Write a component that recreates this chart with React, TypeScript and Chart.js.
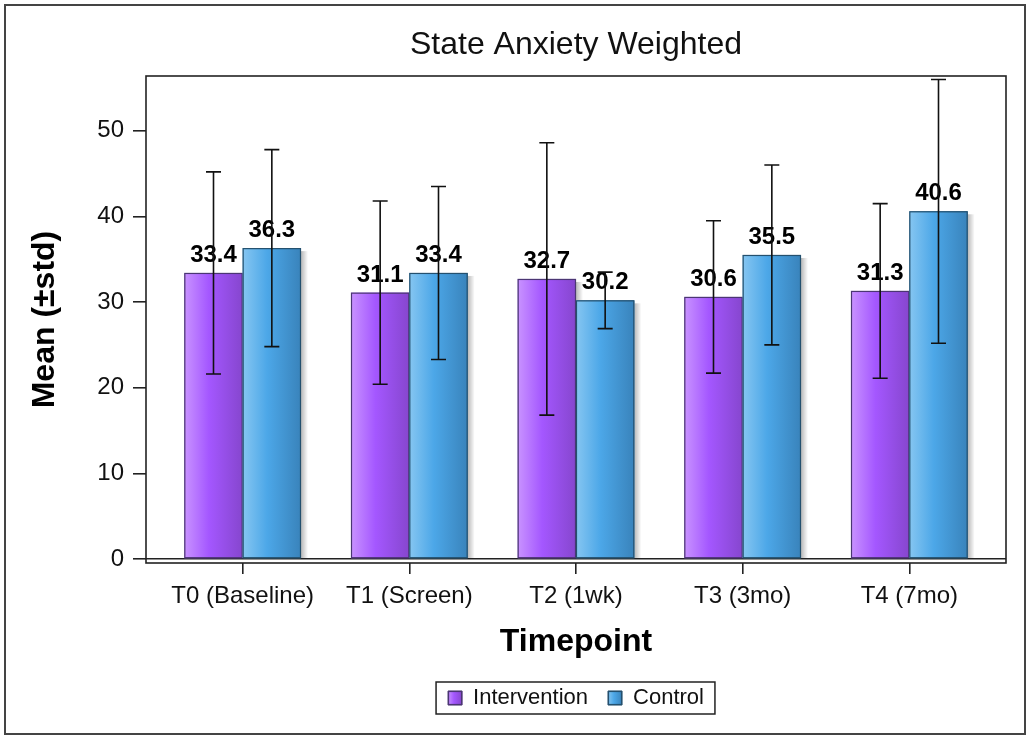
import React, { useEffect, useRef } from "react";
import { Chart, registerables } from "chart.js";

Chart.register(...registerables);

const categories = ["T0 (Baseline)", "T1 (Screen)", "T2 (1wk)", "T3 (3mo)", "T4 (7mo)"];
const interventionMean = [33.4, 31.1, 32.7, 30.6, 31.3];
const controlMean = [36.3, 33.4, 30.2, 35.5, 40.6];
const interventionStd = [11.8, 10.7, 15.9, 8.9, 10.2];
const controlStd = [11.5, 10.1, 3.3, 10.5, 15.4];
const yTickValues = [0, 10, 20, 30, 40, 50];
const seriesNames = ["Intervention", "Control"];

const FONT = "'Liberation Sans', Arial, Helvetica, sans-serif";

const gradStops = [
  [
    [0, "#C993FF"],
    [0.42, "#A457FF"],
    [1, "#8646CE"],
  ],
  [
    [0, "#86C6F1"],
    [0.42, "#4CA7E8"],
    [1, "#3983BB"],
  ],
];
const solidColors = ["#A457FF", "#4CA7E8"];
const borderColors = ["#4B3673", "#24506E"];
const stdArrays = [interventionStd, controlStd];

function makeGrad(ctx: CanvasRenderingContext2D, x0: number, x1: number, stops: any[]) {
  const g = ctx.createLinearGradient(x0, 0, x1, 0);
  stops.forEach(([o, c]) => g.addColorStop(o, c));
  return g;
}

const decorPlugin = {
  id: "decor",
  beforeDatasetsDraw(chart: any) {
    const ctx = chart.ctx as CanvasRenderingContext2D;
    ctx.save();
    chart.data.datasets.forEach((_: any, di: number) => {
      const meta = chart.getDatasetMeta(di);
      meta.data.forEach((el: any) => {
        const { x, y, base, width } = el.getProps(["x", "y", "base", "width"], true);
        const right = x + width / 2;
        const g = ctx.createLinearGradient(right, 0, right + 7, 0);
        g.addColorStop(0, "rgba(0,0,0,0.28)");
        g.addColorStop(1, "rgba(0,0,0,0)");
        ctx.fillStyle = g;
        ctx.fillRect(right, y + 3, 7, base - y - 3);
      });
    });
    ctx.restore();
  },
  afterDatasetsDraw(chart: any) {
    const ctx = chart.ctx as CanvasRenderingContext2D;
    const yScale = chart.scales.y;
    ctx.save();
    // gradient bars
    chart.data.datasets.forEach((_: any, di: number) => {
      const meta = chart.getDatasetMeta(di);
      meta.data.forEach((el: any) => {
        const { x, y, base, width } = el.getProps(["x", "y", "base", "width"], true);
        const left = x - width / 2;
        ctx.fillStyle = makeGrad(ctx, left, left + width, gradStops[di]);
        ctx.fillRect(left, y, width, base - y);
        ctx.strokeStyle = borderColors[di];
        ctx.lineWidth = 1.2;
        ctx.strokeRect(left + 0.5, y + 0.5, width - 1, base - y - 1);
      });
    });
    // value labels
    ctx.fillStyle = "#000";
    ctx.font = `bold 24px ${FONT}`;
    ctx.textAlign = "center";
    ctx.textBaseline = "alphabetic";
    chart.data.datasets.forEach((ds: any, di: number) => {
      const meta = chart.getDatasetMeta(di);
      meta.data.forEach((el: any, i: number) => {
        const { x, y } = el.getProps(["x", "y"], true);
        ctx.fillText(ds.data[i].y.toFixed(1), x, y - 11);
      });
    });
    // error bars
    ctx.strokeStyle = "#111";
    ctx.lineWidth = 1.6;
    chart.data.datasets.forEach((ds: any, di: number) => {
      const meta = chart.getDatasetMeta(di);
      meta.data.forEach((el: any, i: number) => {
        const { x } = el.getProps(["x"], true);
        const m = ds.data[i].y;
        const s = stdArrays[di][i];
        const yt = yScale.getPixelForValue(m + s);
        const yb = yScale.getPixelForValue(m - s);
        ctx.beginPath();
        ctx.moveTo(x, yt);
        ctx.lineTo(x, yb);
        ctx.moveTo(x - 7.5, yt);
        ctx.lineTo(x + 7.5, yt);
        ctx.moveTo(x - 7.5, yb);
        ctx.lineTo(x + 7.5, yb);
        ctx.stroke();
      });
    });
    // plot frame
    const a = chart.chartArea;
    ctx.strokeStyle = "#222";
    ctx.lineWidth = 1.6;
    ctx.strokeRect(a.left, a.top, a.right - a.left, a.bottom - a.top);
    ctx.restore();
  },
  afterDraw(chart: any) {
    const ctx = chart.ctx as CanvasRenderingContext2D;
    ctx.save();
    // legend swatches and border
    const hbs = chart.legend?.legendHitBoxes || [];
    if (hbs.length) {
      hbs.forEach((hb: any, i: number) => {
        const bx = hb.left;
        const by = hb.top + (hb.height - 14) / 2;
        ctx.fillStyle = makeGrad(ctx, bx, bx + 14, gradStops[i]);
        ctx.fillRect(bx, by, 14, 14);
        ctx.strokeStyle = borderColors[i];
        ctx.lineWidth = 1.2;
        ctx.strokeRect(bx + 0.5, by + 0.5, 13, 13);
      });
      const first = hbs[0];
      const last = hbs[hbs.length - 1];
      const cy = first.top + first.height / 2;
      const l = first.left - 12;
      const r = last.left + last.width + 11;
      ctx.strokeStyle = "#222";
      ctx.lineWidth = 1.5;
      ctx.strokeRect(l, cy - 16, r - l, 32);
    }
    // outer frame
    ctx.strokeStyle = "#444";
    ctx.lineWidth = 2;
    ctx.strokeRect(5, 5, 1020, 729);
    ctx.restore();
  },
};

export default function App() {
  const ref = useRef<HTMLCanvasElement | null>(null);
  useEffect(() => {
    document.body.style.margin = "0";
    const canvas = ref.current;
    if (!canvas) return;
    const chart = new Chart(canvas, {
      type: "bar",
      data: {
        datasets: [
          {
            label: seriesNames[0],
            data: interventionMean.map((v, i) => ({ x: i, y: v })),
            backgroundColor: solidColors[0],
            borderColor: borderColors[0],
            borderWidth: 1,
            categoryPercentage: 0.7,
            barPercentage: 1.0,
          },
          {
            label: seriesNames[1],
            data: controlMean.map((v, i) => ({ x: i, y: v })),
            backgroundColor: solidColors[1],
            borderColor: borderColors[1],
            borderWidth: 1,
            categoryPercentage: 0.7,
            barPercentage: 1.0,
          },
        ],
      },
      options: {
        responsive: false,
        animation: false,
        maintainAspectRatio: false,
        layout: { padding: { top: 0, left: 0, right: 25, bottom: 21 } },
        plugins: {
          title: {
            display: true,
            fullSize: false,
            text: "State Anxiety Weighted",
            color: "#111",
            font: { family: FONT, size: 32, weight: "normal" },
            padding: { top: 26, bottom: 11.6 },
          },
          legend: {
            display: true,
            position: "bottom",
            fullSize: false,
            labels: {
              color: "#111",
              font: { family: FONT, size: 22 },
              boxWidth: 14,
              boxHeight: 14,
              padding: 20,
            },
          },
          tooltip: { enabled: false },
        },
        scales: {
          x: {
            type: "linear",
            offset: false,
            min: -0.58,
            max: 4.58,
            afterBuildTicks: (scale: any) => {
              scale.ticks = categories.map((_, i) => ({ value: i }));
            },
            afterFit: (scale: any) => {
              scale.height = 104;
            },
            ticks: {
              callback: (v: any) => categories[v] ?? "",
              color: "#111",
              font: { family: FONT, size: 24 },
              padding: 8,
              maxRotation: 0,
              autoSkip: false,
            },
            grid: {
              display: true,
              offset: false,
              drawOnChartArea: false,
              tickLength: 11,
              tickColor: "#222",
              lineWidth: 1.6,
            },
            border: { display: false },
            title: {
              display: true,
              text: "Timepoint",
              color: "#000",
              font: { family: FONT, size: 32, weight: "bold" },
              padding: { top: 0, bottom: 6 },
            },
          },
          y: {
            type: "linear",
            min: -0.47,
            max: 56.4,
            afterBuildTicks: (scale: any) => {
              scale.ticks = yTickValues.map((v) => ({ value: v }));
            },
            afterFit: (scale: any) => {
              scale.width = 146;
            },
            ticks: {
              color: "#111",
              font: { family: FONT, size: 24 },
              padding: 9,
            },
            grid: {
              display: true,
              drawOnChartArea: true,
              color: (c: any) => (c.tick && c.tick.value === 0 ? "#222" : "rgba(0,0,0,0)"),
              tickColor: "#222",
              tickLength: 13,
              lineWidth: 1.6,
            },
            border: { display: false },
            title: {
              display: true,
              text: "Mean (±std)",
              color: "#000",
              font: { family: FONT, size: 32, weight: "bold" },
              padding: { top: 26, bottom: 0 },
            },
          },
        },
      },
      plugins: [decorPlugin],
    });
    return () => chart.destroy();
  }, []);
  return (
    <div style={{ width: 1031, height: 740, background: "#fff" }}>
      <canvas ref={ref} width={1031} height={740} style={{ display: "block", width: 1031, height: 740 }} />
    </div>
  );
}
